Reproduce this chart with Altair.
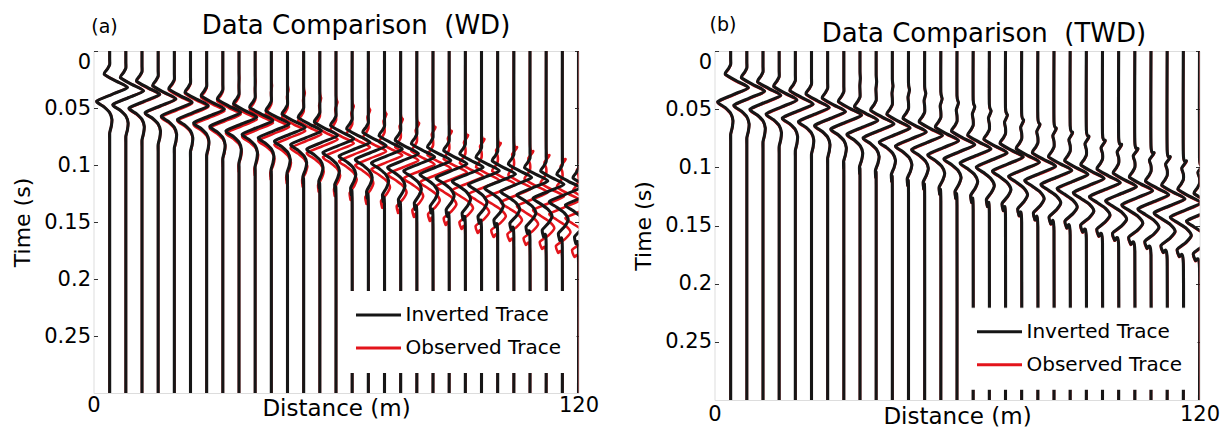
import altair as alt
import pandas as pd

# ---------------- data ----------------
DIST = [4, 8, 12, 16, 20, 24, 28, 32, 36, 40, 44, 48, 52, 56, 60,
        64, 68, 72, 76, 80, 84, 88, 92, 96, 100, 104, 108, 112, 116, 120]
SPACING = 4.0        # m between traces (deflection unit)
T_MAX = 0.3

# wavelet nodes: time after onset (s) and deflection (in trace spacings)
WAVE_DT = [-0.022, -0.016, -0.010, -0.005, 0.000, 0.004, 0.0085, 0.0145, 0.020,
           0.026, 0.032, 0.037, 0.042, 0.048, 0.054, 0.060, 0.066, 0.072]
MAIN = [0, 0, 0, 0, 0, -0.15, -0.33, 0.40, 1.10,
        0.15, -0.80, -0.35, 0.0, 0.14, 0.10, 0.0, 0.0, 0.0]
PRE = [0, 0.20, -0.10, 0, 0, 0, 0, 0, 0,
       0, 0, 0, 0, 0, 0, 0, 0, 0]
CODA = [0, 0, 0, 0, 0, 0, 0, 0, 0,
        0, 0, 0.0, 0.15, 0.28, 0.05, -0.30, -0.20, 0.0]

# inverted trace, WD (panel a)
ONSET_WD = [0.012, 0.015, 0.018, 0.022, 0.025, 0.028, 0.031, 0.034, 0.038, 0.041,
            0.044, 0.047, 0.050, 0.054, 0.057, 0.060, 0.063, 0.066, 0.070, 0.073,
            0.076, 0.079, 0.082, 0.085, 0.088, 0.091, 0.094, 0.097, 0.100, 0.103]
PRE_WD = [0] * 30
CODA_WD = [0, 0, 0, 0, 0, 0, 0, 0, 0, 0, 0.05, 0.1, 0.15, 0.2, 0.25,
           0.3, 0.35, 0.4, 0.45, 0.5, 0.55, 0.6, 0.65, 0.7, 0.75, 0.8, 0.8, 0.8, 0.8, 0.8]

# observed trace (both panels)
ONSET_OBS = [0.012, 0.015, 0.0185, 0.0225, 0.026, 0.029, 0.0325, 0.0355, 0.040, 0.043,
             0.0465, 0.050, 0.053, 0.0575, 0.061, 0.0645, 0.068, 0.0715, 0.076, 0.0795,
             0.083, 0.0865, 0.090, 0.0935, 0.097, 0.1005, 0.104, 0.1075, 0.111, 0.1145]
PRE_OBS = [0, 0, 0, 0, 0, 0, 0, 0, 0.1, 0.15, 0.2, 0.3, 0.35, 0.4, 0.45,
           0.5, 0.55, 0.6, 0.65, 0.7, 0.75, 0.8, 0.85, 0.9, 0.95, 1, 1, 1, 1, 1]
CODA_OBS = [0, 0, 0, 0, 0, 0, 0, 0.05, 0.1, 0.15, 0.2, 0.25, 0.3, 0.35, 0.4,
            0.5, 0.6, 0.7, 0.8, 0.9, 1.0, 1.1, 1.2, 1.2, 1.3, 1.3, 1.3, 1.3, 1.3, 1.3]

# inverted trace, TWD (panel b)
ONSET_TWD = [0.0115, 0.0145, 0.018, 0.022, 0.0255, 0.0285, 0.032, 0.035, 0.0395, 0.0425,
             0.046, 0.0495, 0.0525, 0.057, 0.0605, 0.064, 0.0675, 0.071, 0.0755, 0.079,
             0.0825, 0.086, 0.0895, 0.093, 0.0965, 0.100, 0.1035, 0.107, 0.1105, 0.114]
PRE_TWD = [0, 0, 0, 0, 0, 0, 0, 0, 0.1, 0.15, 0.2, 0.3, 0.35, 0.4, 0.45,
           0.5, 0.55, 0.6, 0.6, 0.65, 0.7, 0.75, 0.8, 0.85, 0.9, 0.95, 0.95, 0.95, 0.95, 0.95]
CODA_TWD = [0, 0, 0, 0, 0, 0, 0, 0.05, 0.1, 0.15, 0.2, 0.25, 0.3, 0.35, 0.4,
            0.5, 0.6, 0.7, 0.8, 0.9, 1.0, 1.05, 1.15, 1.15, 1.25, 1.25, 1.25, 1.25, 1.25, 1.25]

Y_TICKS = [0, 0.05, 0.1, 0.15, 0.2, 0.25]
X_TICKS = [0, 120]
SERIES = ["Inverted Trace", "Observed Trace"]
COLORS = ["#161616", "#e3141b"]
FONT = "DejaVu Sans"


def traces(onsets, pres, codas, series):
    rows = []
    for i, x0 in enumerate(DIST):
        pts = [(x0, 0.0)]
        for k, dt in enumerate(WAVE_DT):
            t = onsets[i] + dt
            if t <= 0:
                continue
            a = MAIN[k] + pres[i] * PRE[k] + codas[i] * CODA[k]
            pts.append((x0 + SPACING * a, t))
        pts.append((x0, T_MAX))
        for j, (x, t) in enumerate(pts):
            rows.append({"trace": x0, "x": x, "t": t, "ord": j, "series": series})
    return pd.DataFrame(rows)


W = 485


def panel(df_inv, df_obs, h, title, tag, title_x, title_y, tag_x, tag_y, leg_y,
          lab_pad, xt_y):
    xs = alt.Scale(domain=[0, 120], nice=False, zero=False)
    ys = alt.Scale(domain=[0, T_MAX], nice=False, zero=False, reverse=True)
    color = alt.Color(
        "series:N",
        scale=alt.Scale(domain=SERIES, range=COLORS),
        legend=alt.Legend(
            title=None, orient="none", legendX=246, legendY=leg_y, direction="vertical",
            fillColor="white", padding=14, symbolType="M-3,0H3", symbolSize=225,
            symbolOffset=15, symbolStrokeWidth=3, labelFontSize=20, labelFont=FONT,
            labelColor="black", labelLimit=400, rowPadding=13, labelOffset=17,
            strokeColor="white",
        ),
    )
    x_axis = alt.Axis(
        values=X_TICKS, title="Distance (m)", grid=False, domain=False, ticks=False,
        labelPadding=lab_pad, labelFlush=False, labelFontSize=21, labelFont=FONT,
        labelColor="black", titleFontSize=23, titleFont=FONT, titleColor="black",
        titleFontWeight="normal", titleY=xt_y, titleBaseline="alphabetic",
    )
    y_left = alt.Axis(
        orient="left", values=Y_TICKS, format="~g", grid=False, domain=False,
        offset=-4, tickSize=4, tickColor="#333", labelPadding=3, labelFlush=True,
        labelFontSize=21, labelFont=FONT, labelColor="black",
        title="Time (s)", titleFontSize=22, titleFont=FONT, titleColor="black",
        titleFontWeight="normal", titleX=-75.5, titleY=h / 2, titleBaseline="middle",
        titleAngle=270,
    )
    y_right = alt.Axis(
        orient="right", values=Y_TICKS, grid=False, domain=False, labels=False,
        offset=-4, tickSize=4, tickColor="#333", title=None,
    )
    red = alt.Chart(df_obs).mark_line(
        clip=True, strokeWidth=2.6, interpolate="cardinal", tension=0.35
    ).encode(
        x=alt.X("x:Q", scale=xs, axis=x_axis),
        y=alt.Y("t:Q", scale=ys, axis=y_left),
        color=color,
        detail="trace:N",
        order="ord:Q",
    )
    black = alt.Chart(df_inv).mark_line(
        clip=True, strokeWidth=3.1, interpolate="cardinal", tension=0.35
    ).encode(
        x=alt.X("x:Q", scale=xs, axis=x_axis),
        y=alt.Y("t:Q", scale=ys, axis=y_right),
        color=color,
        detail="trace:N",
        order="ord:Q",
    )
    head = alt.Chart(pd.DataFrame({"label": [title]})).mark_text(
        fontSize=26, font=FONT, color="black", align="center", baseline="alphabetic"
    ).encode(x=alt.value(title_x), y=alt.value(title_y), text="label:N")
    tagm = alt.Chart(pd.DataFrame({"label": [tag]})).mark_text(
        fontSize=19, font=FONT, color="black", align="center", baseline="alphabetic"
    ).encode(x=alt.value(tag_x), y=alt.value(tag_y), text="label:N")
    return alt.layer(red, black, head, tagm).resolve_axis(y="independent").properties(
        width=W, height=h
    )


obs = traces(ONSET_OBS, PRE_OBS, CODA_OBS, "Observed Trace")
inv_a = traces(ONSET_WD, PRE_WD, CODA_WD, "Inverted Trace")
inv_b = traces(ONSET_TWD, PRE_TWD, CODA_TWD, "Inverted Trace")

NB = "\u00a0"
pa = panel(inv_a, obs, 342, f"Data Comparison {NB}(WD)", "(a)", W / 2 + 20, -17.5, 11, -18.5,
           240, 1, 22)
pb = panel(inv_b, obs, 349, f"Data Comparison {NB}(TWD)", "(b)", W / 2 + 27, -9, 8.5, -20.5,
           256.7, 3, 23)

chart = (
    alt.hconcat(pa, pb, spacing=32)
    .resolve_scale(color="independent")
    .resolve_legend(color="independent")
    .configure_view(stroke="#222", strokeWidth=1.2)
    .configure(font=FONT)
    .properties(padding={"left": 10.5, "top": 12, "right": 5, "bottom": 0},
                background="white")
)

chart.save("out.html", embed_options={"renderer": "svg", "actions": False})
